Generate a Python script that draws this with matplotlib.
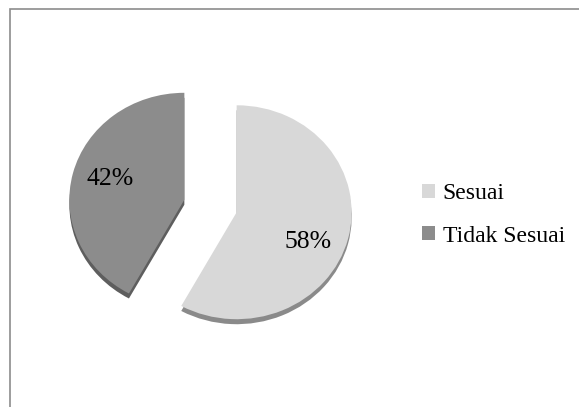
import matplotlib
matplotlib.use("Agg")
import matplotlib.pyplot as plt
from matplotlib.patches import Patch

plt.rcParams["font.family"] = ["Liberation Serif", "DejaVu Serif"]

# data
labels = ["Sesuai", "Tidak Sesuai"]
values = [58, 42]
colors = ["#d8d8d8", "#8c8c8c"]
shadow_colors = ["#8a8a8a", "#5e5e5e"]

W, H = 579, 407
fig = plt.figure(figsize=(W / 100, H / 100), dpi=100)
ax = fig.add_axes([0, 0, 1, 1])

yscale = 0.93  # pie is slightly squashed vertically
cx, cy = 210.5, (H - 206) / yscale
r = 115
expl = [27, 27]  # pie() uses data units for explode

# shadow layer under the wedges
ax.pie(values, colors=shadow_colors, startangle=90, counterclock=False,
       explode=expl, radius=r, center=(cx, cy - 5 / yscale),
       wedgeprops=dict(linewidth=0))

wedges, _, autotexts = ax.pie(
    values, colors=colors, startangle=90, counterclock=False,
    explode=expl, radius=r, center=(cx, cy),
    autopct="%d%%", pctdistance=0.67,
    wedgeprops=dict(linewidth=0),
    textprops=dict(fontsize=18.5, color="black"))

# label of the big slice sits a bit lower than the mid angle
x0, y0 = autotexts[0].get_position()
autotexts[0].set_position((x0 - 3, y0 - 12 / yscale))
x1, y1 = autotexts[1].get_position()
autotexts[1].set_position((x1, y1 + 3 / yscale))

ax.set_aspect("auto")
ax.set_xlim(0, W)
ax.set_ylim(0, H / yscale)
ax.axis("off")

# chart frame
frame = plt.Rectangle((9.5 / W, -0.1), 2, 1 - 9.5 / H + 0.1,
                      transform=fig.transFigure, fill=False,
                      edgecolor="#8c8c8c", linewidth=1.2)
fig.patches.append(frame)

handles = [Patch(facecolor=c, edgecolor="none") for c in colors]
fig.legend(handles, labels, loc="center left", bbox_to_anchor=(413 / W, 1 - 215 / H),
           frameon=False, fontsize=17, handlelength=0.55, handleheight=0.55,
           handletextpad=0.3, labelspacing=0.9, borderaxespad=0)

fig.savefig("out.png", dpi=100)
